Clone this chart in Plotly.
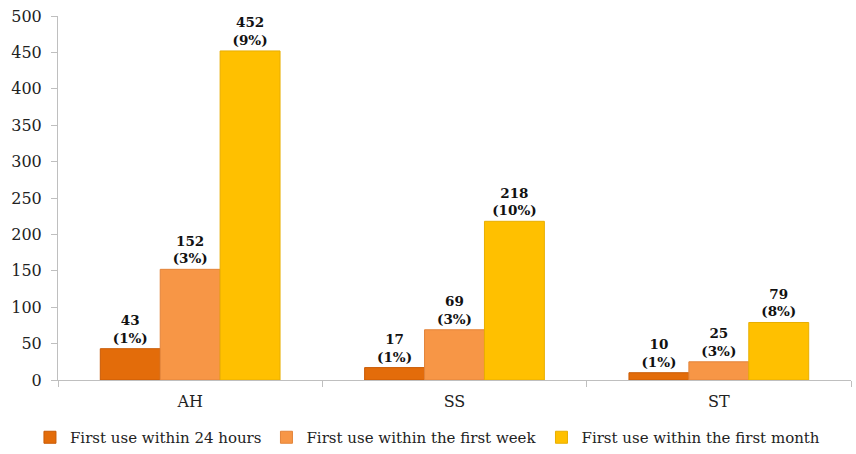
import plotly.graph_objects as go

categories = ["AH", "SS", "ST"]
series_names = [
    "First use within 24 hours",
    "First use within the first week",
    "First use within the first month",
]
values_24h = [43, 17, 10]
values_week = [152, 69, 25]
values_month = [452, 218, 79]
pct_24h = ["1%", "1%", "1%"]
pct_week = ["3%", "3%", "3%"]
pct_month = ["9%", "10%", "8%"]
y_ticks = [0, 50, 100, 150, 200, 250, 300, 350, 400, 450, 500]

colors = ["#E36C0A", "#F79646", "#FFC000"]
edge_colors = ["#C85A05", "#E3843A", "#E8AE00"]

font_family = "DejaVu Serif"

fig = go.Figure()
for name, vals, pcts, col, edge in zip(
    series_names,
    [values_24h, values_week, values_month],
    [pct_24h, pct_week, pct_month],
    colors,
    edge_colors,
):
    fig.add_trace(
        go.Bar(
            name=name,
            x=categories,
            y=vals,
            marker=dict(color=col, line=dict(color=edge, width=1)),
            text=[f"<b>{v}<br>({p})</b>" for v, p in zip(vals, pcts)],
            textposition="outside",
            textfont=dict(family=font_family, size=13.5, color="#111111"),
            cliponaxis=False,
        )
    )

fig.update_layout(
    width=856,
    height=454,
    margin=dict(l=58, r=5, t=16, b=74, autoexpand=False),
    barmode="group",
    bargap=0.32,
    bargroupgap=0,
    plot_bgcolor="white",
    paper_bgcolor="white",
    font=dict(family=font_family, size=16, color="#222222"),
    showlegend=True,
    legend=dict(
        orientation="h",
        x=0.035,
        xanchor="left",
        xref="container",
        y=-0.028,
        yanchor="bottom",
        yref="container",
        font=dict(family=font_family, size=15, color="#222222"),
        itemwidth=30,
        traceorder="normal",
    ),
)
fig.update_xaxes(
    showline=True,
    linecolor="#BFBFBF",
    linewidth=1,
    ticks="outside",
    tickson="boundaries",
    ticklen=6,
    tickcolor="#BFBFBF",
    ticklabelstandoff=7,
    tickfont=dict(family=font_family, size=16, color="#222222"),
)
fig.update_yaxes(
    range=[0, 500],
    tickvals=y_ticks,
    showgrid=False,
    showline=True,
    linecolor="#BFBFBF",
    linewidth=1,
    ticks="outside",
    ticklen=6,
    tickcolor="#BFBFBF",
    ticklabelstandoff=6,
    tickfont=dict(family=font_family, size=16, color="#222222"),
    zeroline=False,
)

fig.write_html("out.html")
